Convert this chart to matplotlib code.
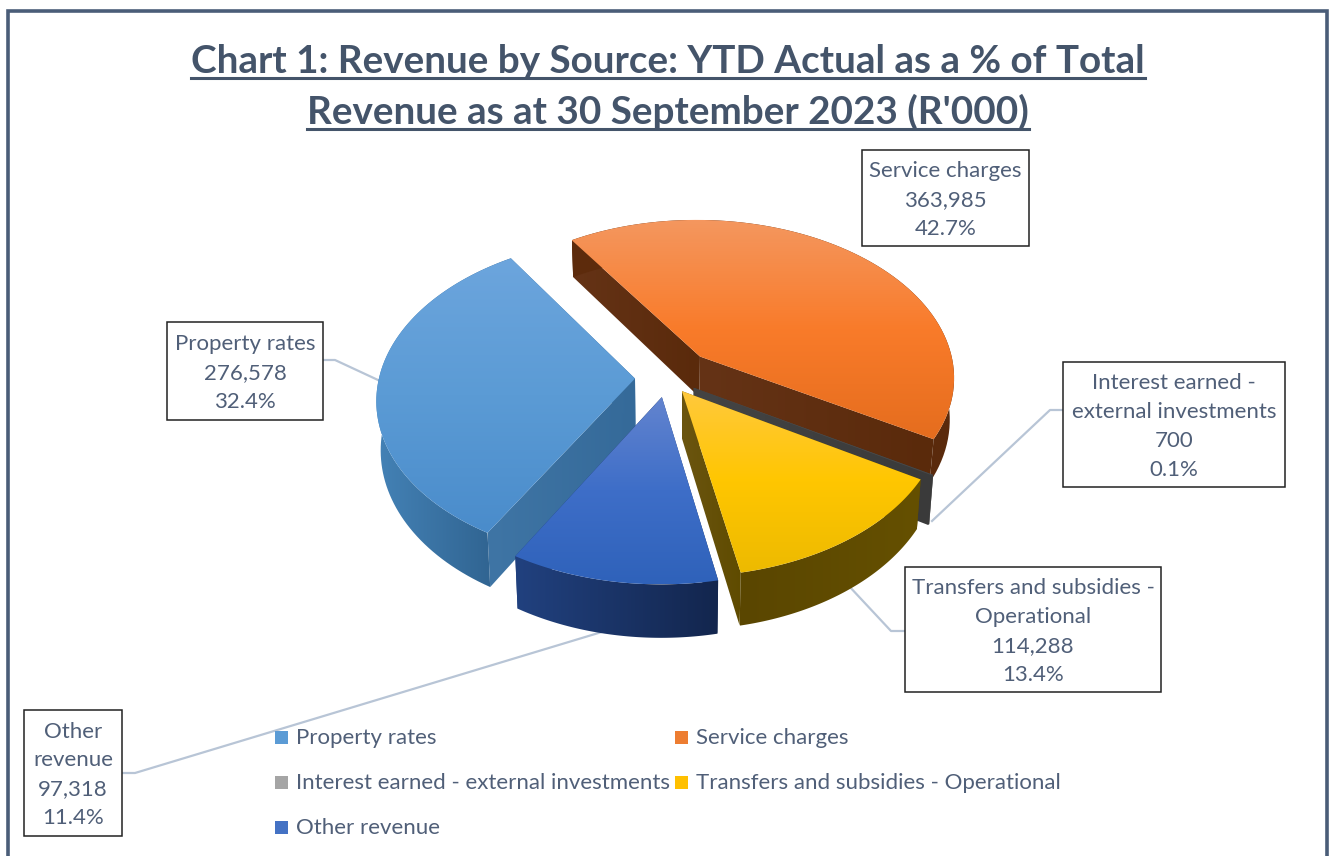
import numpy as np
import matplotlib
matplotlib.use("Agg")
import matplotlib.pyplot as plt
from matplotlib.patches import Polygon, Rectangle

# Data (R'000)
categories = ["Property rates", "Service charges", "Interest earned - external investments",
              "Transfers and subsidies - Operational", "Other revenue"]
values = [276578, 363985, 700, 114288, 97318]
percents = ["32.4%", "42.7%", "0.1%", "13.4%", "11.4%"]
value_labels = ["276,578", "363,985", "700", "114,288", "97,318"]
explode = [0.125, 0.19, 0.12, 0.10, 0.12]
depth_scale = [1.05, 0.9, 1.0, 1.0, 1.0]
title_lines = ["Chart 1: Revenue by Source: YTD Actual as a % of Total",
               "Revenue as at 30 September 2023 (R'000)"]

# Colours per slice: top gradient (3 stops), wall left/right, cut face left/right
top_cols = [["#6CA5DD", "#5B9BD5", "#4A8CCB"], ["#F4975F", "#F97B2A", "#E56D1E"],
            ["#5A5A5A", "#505050", "#484848"], ["#FFC93C", "#FFC600", "#EDBA00"],
            ["#6384CF", "#3E6EC8", "#2F62BA"]]
wall_cols = [["#4482B6", "#2D5F8B"], ["#5E2C0C", "#5A2A0C"], ["#444444", "#3A3A3A"],
             ["#5A4600", "#655000"], ["#21417F", "#13264E"]]
cut_cols = [["#3F75A5", "#356A99"], ["#653316", "#5A2A0B"], ["#444444", "#3A3A3A"],
            ["#6B5510", "#5F4B00"], ["#21417F", "#13264E"]]
legend_cols = ["#5B9BD5", "#ED7D31", "#A5A5A5", "#FFC000", "#4472C4"]

text_col = "#505F78"
slate = "#44546A"
leader_col = "#B8C5D6"

plt.rcParams['font.family'] = ['Lato', 'DejaVu Sans']

# pie geometry in pixels
cx, cy = 667, 378
R = 256
tilt = 0.62
persp = 0.125
depth = 46
start_angle = 210


def project(u, v):
    w = 1 / (1 - persp * v)
    return cx + R * u * w, cy + R * tilt * v * w, depth * w


def drop(x, y, d, scale):
    # the underside sits a little further from the viewer
    return cx + (x - cx) * 0.985, y + d * scale


def hex_rgb(c):
    return np.array(matplotlib.colors.to_rgb(c))


def grad_fill(ax, pts, cols, vertical=True):
    pts = np.array(pts)
    x0, y0 = pts.min(axis=0)
    x1, y1 = pts.max(axis=0)
    stops = np.array([hex_rgb(c) for c in cols])
    t = np.linspace(0, 1, 128)
    pos = np.linspace(0, 1, len(cols))
    ramp = np.stack([np.interp(t, pos, stops[:, i]) for i in range(3)], axis=-1)
    img = ramp[:, None, :] if vertical else ramp[None, :, :]
    im = ax.imshow(img, extent=(x0, x1, y1, y0), aspect='auto', interpolation='bilinear', zorder=2)
    patch = Polygon(pts, closed=True, transform=ax.transData, facecolor='none', edgecolor='none')
    ax.add_patch(patch)
    im.set_clip_path(patch)


def draw_slice(ax, i, a0, a1):
    mid = np.radians((a0 + a1) / 2)
    eu, ev = explode[i] * np.sin(mid), -explode[i] * np.cos(mid)
    th = np.radians(np.linspace(a0, a1, 80))
    rim = [project(eu + np.sin(t), ev - np.cos(t)) for t in th]
    apex = project(eu, ev)
    top = [(apex[0], apex[1])] + [(p[0], p[1]) for p in rim]
    low = [drop(*p, depth_scale[i]) for p in rim]
    apex_low = drop(*apex, depth_scale[i])
    # cut faces first so the outer wall covers their slivers
    for p, q in ((rim[0], low[0]), (rim[-1], low[-1])):
        face = [(apex[0], apex[1]), (p[0], p[1]), q, apex_low]
        grad_fill(ax, face, cut_cols[i], vertical=False)
    grad_fill(ax, [(p[0], p[1]) for p in rim] + low[::-1], wall_cols[i], vertical=False)
    grad_fill(ax, top, top_cols[i])


# label boxes: x0, y0, x1, y1, first line, text lines
box_text = [["Property rates"], ["Service charges"], ["Interest earned -", "external investments"],
            ["Transfers and subsidies -", "Operational"], ["Other", "revenue"]]
boxes = [(167, 322, 323, 420), (862, 150, 1029, 246), (1063, 362, 1285, 487),
         (905, 567, 1161, 692), (24, 710, 122, 836)]
leaders = [[(323, 360), (335, 360), (378, 380)], None, [(1063, 410), (1050, 410), (932, 521)],
           [(905, 631), (891, 631), (848, 585)], [(122, 773), (135, 773), (615, 628)]]
legend_pos = [(275, 737), (675, 737), (275, 782), (675, 782), (275, 827)]

fig = plt.figure(figsize=(13.32, 8.56), dpi=100)
ax = fig.add_axes([0, 0, 1, 1])
ax.axis('off')

# frame
ax.add_patch(Rectangle((7.5, 10.5), 1319.5, 880, facecolor='white', edgecolor="#4A5D78", lw=2.6, zorder=0))

# leader lines go under the pie
for ln in leaders:
    if ln is not None:
        ax.plot([p[0] for p in ln], [p[1] for p in ln], color=leader_col, lw=1.6, zorder=1)

# slice angles come from the values, clockwise from start_angle
total = sum(values)
angles = [start_angle]
for val in values:
    angles.append(angles[-1] + 360 * val / total)
for i in [1, 2, 0, 4, 3]:
    draw_slice(ax, i, angles[i], angles[i + 1])

ax.set_xlim(0, 1332)
ax.set_ylim(856, 0)

# title with underline
fig.canvas.draw()
renderer = fig.canvas.get_renderer()
for line, y in zip(title_lines, [73, 124]):
    t = ax.text(668, y, line, ha='center', va='baseline', fontsize=27.8, fontweight='bold', color=slate)
    ext = t.get_window_extent(renderer)
    ax.plot([ext.x0, ext.x1], [y + 5, y + 5], color=slate, lw=2.2, zorder=3)

# data labels
for i in range(5):
    x0, y0, x1, y1 = boxes[i]
    ax.add_patch(Rectangle((x0, y0), x1 - x0, y1 - y0, facecolor='white', edgecolor='#222222', lw=1.1, zorder=4))
    lines = box_text[i] + [value_labels[i], percents[i]]
    ym = (y0 + y1) / 2 + 2
    for j, s in enumerate(lines):
        ax.text((x0 + x1) / 2, ym + (j - (len(lines) - 1) / 2) * 29, s, ha='center', va='center',
                fontsize=16, color=text_col, zorder=5)

# legend
for i in range(5):
    lx, ly = legend_pos[i]
    ax.add_patch(Rectangle((lx, ly - 6), 13, 13, facecolor=legend_cols[i], edgecolor='none', zorder=4))
    ax.text(lx + 21, ly + 1, categories[i], ha='left', va='center', fontsize=16, color=text_col, zorder=5)

fig.savefig("out.png", dpi=100)
